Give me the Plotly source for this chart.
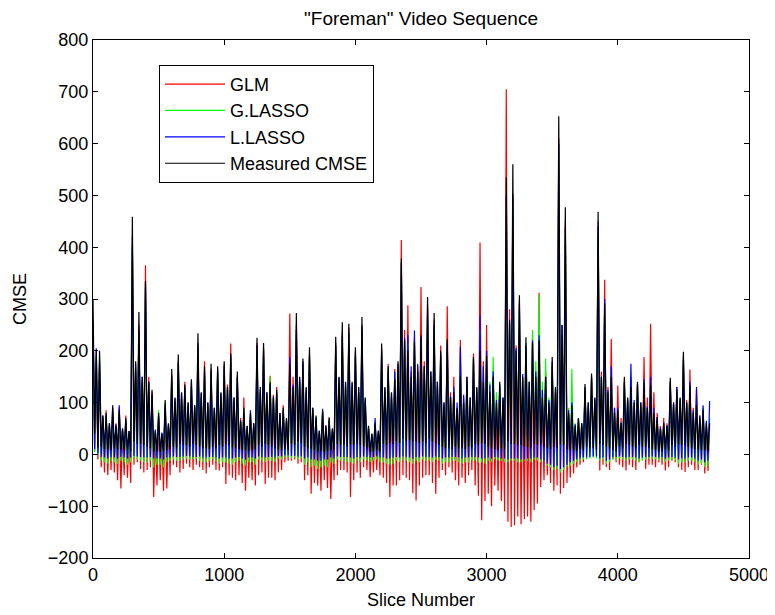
import plotly.graph_objects as go

# Slice positions of the readings: main peak every 50 slices, and in between a
# lower-edge reading, a band-top reading and a second lower-edge reading.
peak_slices = list(range(0, 4701, 50))          # 95 readings
low1_slices = [s + 12.5 for s in range(0, 4700, 50)]   # 94 readings
band_slices = [s + 25 for s in range(0, 4700, 50)]     # 94 readings
low2_slices = [s + 37.5 for s in range(0, 4700, 50)]   # 94 readings

# ---------------- Measured CMSE (black) ----------------
measured_peaks = [300, 200, 80, 95, 85, 70, 459, 275, 335, 125,
                  80, 105, 165, 193, 135, 145, 234, 170, 175, 170,
                  180, 195, 160, 90, 80, 225, 215, 140, 125, 90,
                  175, 273, 185, 207, 75, 85, 70, 227, 255, 252,
                  207, 265, 55, 60, 214, 170, 145, 378, 200, 217,
                  230, 304, 273, 200, 223, 120, 150, 150, 188, 200,
                  190, 150, 140, 535, 560, 307, 226, 215, 220, 150,
                  188, 653, 477, 95, 70, 136, 156, 468, 291, 150,
                  85, 150, 130, 140, 140, 133, 72, 60, 148, 125,
                  198, 133, 95, 85, 60]
measured_low1 = [40, 15, 10, 12, 10, 8, 25, 20, 15, 5,
                 5, 8, 15, 20, 18, 20, 15, 12, 15, 18,
                 20, 15, 10, 8, 8, 18, 20, 15, 10, 10,
                 20, 25, 15, 10, 5, 5, 8, 20, 18, 20,
                 20, 15, 5, 8, 20, 22, 25, 30, 28, 25,
                 25, 30, 20, 15, 12, 15, 12, 15, 20, 22,
                 15, 10, 12, 25, 20, 18, 15, 20, 18, 12,
                 15, 20, 10, 8, 10, 15, 12, 20, 15, 8,
                 15, 20, 15, 18, 15, 10, 5, 10, 18, 20,
                 18, 12, 10, 8]
measured_band = [200, 75, 60, 55, 50, 45, 180, 150, 140, 45,
                 40, 60, 110, 120, 100, 95, 120, 100, 90, 120,
                 130, 110, 65, 55, 60, 130, 120, 110, 80, 70,
                 130, 150, 130, 90, 45, 55, 50, 150, 140, 140,
                 130, 110, 40, 45, 130, 120, 180, 220, 150, 160,
                 170, 160, 140, 100, 110, 90, 100, 110, 130, 140,
                 120, 100, 110, 260, 200, 150, 140, 150, 110, 100,
                 130, 250, 80, 55, 60, 100, 110, 150, 120, 80,
                 60, 110, 100, 100, 90, 80, 50, 55, 100, 110,
                 100, 80, 70, 60]
measured_low2 = [12, 10, 8, 10, 8, 6, 20, 18, 12, 6,
                 6, 10, 12, 18, 15, 18, 12, 10, 12, 15,
                 18, 12, 8, 6, 10, 15, 18, 12, 8, 8,
                 18, 22, 12, 8, 6, 6, 10, 18, 15, 18,
                 18, 12, 6, 6, 18, 20, 22, 25, 25, 22,
                 22, 25, 18, 12, 10, 12, 10, 12, 18, 20,
                 12, 8, 10, 20, 18, 15, 12, 18, 15, 10,
                 12, 18, 8, 6, 8, 12, 10, 18, 12, 6,
                 12, 18, 12, 15, 12, 8, 6, 8, 15, 18,
                 15, 10, 8, 6]

# ---------------- L.LASSO (blue) ----------------
llasso_peaks = [250, 180, 75, 90, 95, 65, 420, 240, 330, 115,
                75, 95, 150, 180, 130, 140, 210, 160, 160, 165,
                170, 190, 150, 80, 85, 210, 205, 135, 120, 85,
                188, 240, 180, 190, 70, 88, 65, 210, 230, 235,
                195, 245, 50, 70, 200, 165, 160, 370, 230, 239,
                225, 280, 250, 195, 215, 130, 208, 150, 185, 268,
                200, 160, 135, 500, 500, 290, 210, 220, 230, 150,
                180, 600, 440, 100, 68, 130, 150, 440, 300, 170,
                90, 140, 175, 135, 145, 150, 70, 62, 140, 130,
                190, 140, 130, 95, 103]
llasso_low1 = [10, -5, -8, -6, -5, -8, -3, -5, -6, -8,
               -8, -6, -4, -5, -3, -5, -4, -6, -5, -8,
               -6, -8, -5, -10, -6, -4, -6, -5, -3, -2,
               -3, -4, -8, -10, -12, -10, -6, -4, -5, -6,
               -5, -4, -6, -4, -6, -8, -5, -4, -6, -5,
               -4, -5, -4, -8, -6, -5, -8, -6, -5, -8,
               -6, -5, -8, -10, -8, -10, -8, -6, -10, -18,
               -25, -28, -20, -12, -8, -6, -4, -8, -12, -6,
               -4, -6, -5, -8, -5, -4, -6, -8, -5, -10,
               -8, -6, -12, -15]
llasso_band = [205, 75, 60, 58, 50, 45, 175, 150, 140, 48,
               42, 58, 108, 118, 100, 95, 118, 100, 90, 118,
               128, 110, 66, 55, 60, 125, 120, 112, 80, 68,
               135, 148, 128, 90, 46, 56, 50, 148, 138, 138,
               128, 108, 40, 46, 128, 118, 175, 225, 170, 175,
               170, 160, 140, 100, 112, 100, 115, 110, 128, 170,
               135, 105, 110, 255, 205, 155, 140, 160, 125, 105,
               128, 250, 85, 58, 60, 100, 108, 150, 125, 90,
               62, 108, 105, 100, 92, 90, 52, 56, 100, 108,
               100, 85, 75, 65]
llasso_low2 = [2, -6, -6, -8, -6, -6, -4, -6, -5, -8,
               -10, -6, -5, -4, -4, -5, -6, -5, -6, -6,
               -8, -6, -8, -6, -8, -5, -5, -6, -4, -2,
               -3, -4, -6, -10, -12, -10, -8, -5, -5, -8,
               -6, -5, -5, -6, -8, -6, -6, -5, -8, -6,
               -5, -6, -5, -6, -5, -6, -6, -5, -6, -8,
               -8, -6, -8, -8, -8, -10, -8, -6, -12, -20,
               -22, -25, -15, -10, -6, -5, -4, -6, -10, -5,
               -5, -5, -6, -6, -5, -5, -5, -6, -6, -8,
               -6, -8, -10, -12]

# ---------------- G.LASSO (green) ----------------
glasso_peaks = [240, 190, 70, 85, 80, 60, 400, 230, 320, 110,
                85, 100, 140, 170, 125, 130, 200, 150, 150, 160,
                165, 185, 145, 85, 75, 200, 195, 150, 115, 80,
                165, 230, 170, 185, 72, 80, 68, 200, 220, 225,
                190, 235, 55, 65, 195, 160, 155, 360, 215, 210,
                215, 270, 240, 190, 210, 125, 190, 145, 180, 240,
                195, 188, 130, 480, 480, 280, 215, 240, 308, 185,
                175, 580, 420, 165, 70, 125, 145, 420, 290, 160,
                88, 135, 150, 130, 140, 140, 68, 60, 135, 120,
                180, 130, 110, 90, 70]
glasso_low1 = [5, -12, -18, -15, -12, -20, -8, -12, -15, -25,
               -20, -15, -10, -12, -8, -10, -12, -15, -10, -18,
               -15, -20, -12, -22, -15, -10, -15, -12, -8, -6,
               -8, -10, -20, -25, -28, -22, -15, -10, -12, -15,
               -12, -10, -15, -10, -15, -20, -12, -10, -15, -12,
               -10, -12, -10, -18, -15, -12, -18, -15, -12, -15,
               -12, -10, -12, -15, -12, -15, -12, -10, -15, -22,
               -30, -35, -25, -18, -12, -10, -6, -12, -18, -10,
               -8, -12, -10, -15, -10, -8, -12, -15, -10, -18,
               -15, -12, -20, -25]
glasso_band = [190, 70, 55, 55, 45, 40, 170, 140, 135, 45,
               40, 55, 100, 110, 95, 90, 110, 95, 85, 115,
               125, 105, 65, 50, 55, 120, 115, 110, 75, 65,
               125, 140, 120, 85, 45, 50, 48, 140, 130, 130,
               120, 100, 38, 42, 120, 110, 160, 210, 150, 150,
               160, 150, 130, 95, 110, 88, 105, 105, 120, 150,
               140, 120, 105, 250, 200, 150, 140, 180, 140, 110,
               120, 230, 90, 60, 58, 95, 105, 150, 120, 85,
               60, 105, 100, 95, 90, 85, 50, 55, 95, 105,
               95, 80, 70, 55]
glasso_low2 = [0, -15, -12, -18, -15, -15, -10, -15, -12, -20,
               -25, -12, -12, -10, -10, -8, -15, -12, -12, -15,
               -18, -15, -18, -15, -20, -12, -12, -15, -10, -5,
               -6, -8, -15, -22, -25, -25, -18, -12, -15, -18,
               -15, -12, -12, -15, -18, -18, -15, -12, -18, -15,
               -12, -15, -12, -15, -12, -15, -15, -12, -15, -18,
               -15, -12, -15, -12, -15, -12, -15, -12, -12, -25,
               -28, -30, -22, -15, -10, -8, -8, -10, -15, -12,
               -10, -10, -12, -12, -8, -10, -10, -12, -12, -15,
               -12, -15, -18, -22]

# ---------------- GLM (red) ----------------
glm_peaks = [260, 170, 85, 80, 90, 75, 400, 250, 365, 120,
             70, 95, 155, 175, 140, 130, 215, 180, 165, 155,
             175, 214, 150, 110, 70, 215, 200, 152, 130, 95,
             272, 250, 175, 195, 65, 80, 72, 215, 235, 245,
             200, 250, 50, 55, 205, 175, 165, 414, 288, 225,
             323, 290, 260, 210, 286, 150, 221, 140, 195, 409,
             250, 150, 130, 705, 503, 295, 183, 230, 312, 160,
             170, 610, 450, 90, 65, 125, 150, 450, 337, 223,
             133, 140, 145, 135, 188, 252, 80, 70, 140, 130,
             180, 164, 125, 90, 55]
glm_low1 = [5, -25, -40, -35, -66, -45, -20, -28, -30, -82,
            -50, -66, -20, -35, -18, -30, -25, -37, -20, -31,
            -57, -45, -40, -70, -50, -40, -57, -45, -35, -15,
            -12, -18, -50, -76, -60, -50, -86, -40, -30, -82,
            -35, -25, -44, -30, -45, -82, -60, -40, -50, -89,
            -45, -40, -76, -30, -25, -50, -45, -40, -60, -127,
            -76, -60, -90, -130, -137, -135, -120, -108, -63, -40,
            -70, -76, -55, -37, -20, 10, 14, -31, -25, -10,
            -20, -31, -25, -15, -28, -20, -15, -31, -12, -25,
            -34, -20, -30, -37]
glm_band = [180, 70, 55, 60, 45, 40, 160, 140, 150, 40,
            35, 55, 100, 110, 95, 90, 110, 95, 85, 110,
            135, 100, 70, 50, 55, 120, 110, 115, 75, 65,
            150, 140, 120, 85, 40, 50, 45, 140, 130, 130,
            120, 100, 35, 40, 120, 110, 170, 240, 160, 170,
            180, 150, 130, 90, 120, 85, 110, 100, 120, 180,
            110, 90, 100, 280, 210, 140, 120, 140, 100, 90,
            120, 230, 75, 50, 55, 90, 100, 160, 130, 90,
            70, 100, 95, 90, 110, 120, 55, 60, 95, 100,
            105, 90, 75, 50]
glm_low2 = [-10, -35, -30, -50, -40, -55, -15, -35, -25, -60,
            -70, -40, -25, -28, -25, -20, -30, -25, -30, -25,
            -40, -50, -55, -45, -60, -35, -45, -50, -30, -12,
            -10, -15, -40, -55, -70, -65, -50, -30, -35, -50,
            -45, -30, -35, -40, -55, -60, -50, -45, -75, -60,
            -40, -55, -45, -40, -35, -60, -55, -30, -80, -90,
            -100, -70, -110, -140, -120, -125, -130, -95, -50, -55,
            -60, -65, -45, -25, -15, 5, 8, -20, -30, -15,
            -25, -20, -30, -10, -20, -25, -20, -25, -15, -30,
            -25, -30, -20, -32]

x_ticks = [0, 1000, 2000, 3000, 4000, 5000]
y_ticks = [-200, -100, 0, 100, 200, 300, 400, 500, 600, 700, 800]


def assemble(peaks, low1, band, low2):
    assert len(peaks) == len(peak_slices)
    for arr in (low1, band, low2):
        assert len(arr) == len(low1_slices), len(arr)
    xs, ys = [], []
    for i, p in enumerate(peaks):
        xs.append(peak_slices[i]); ys.append(p)
        if i < len(low1):
            xs.append(low1_slices[i]); ys.append(low1[i])
            xs.append(band_slices[i]); ys.append(band[i])
            xs.append(low2_slices[i]); ys.append(low2[i])
    return xs, ys


series = [
    ("GLM", (glm_peaks, glm_low1, glm_band, glm_low2), "#ff0000"),
    ("G.LASSO", (glasso_peaks, glasso_low1, glasso_band, glasso_low2), "#00ff00"),
    ("L.LASSO", (llasso_peaks, llasso_low1, llasso_band, llasso_low2), "#0000ff"),
    ("Measured CMSE", (measured_peaks, measured_low1, measured_band, measured_low2), "#000000"),
]

fig = go.Figure()
for name, arrs, col in series:
    xs, ys = assemble(*arrs)
    fig.add_trace(go.Scatter(x=xs, y=ys, mode="lines", name=name,
                             line=dict(color=col, width=1.2),
                             hoverinfo="skip"))

font_family = "Liberation Sans, Arial, Helvetica, sans-serif"
FS = 18
axis_common = dict(showgrid=False, zeroline=False, showline=True,
                   linecolor="black", linewidth=1, mirror="ticks",
                   ticks="inside", ticklen=5, tickcolor="black",
                   automargin=False,
                   tickfont=dict(family=font_family, size=FS, color="black"))

fig.update_layout(
    width=775, height=615,
    paper_bgcolor="white", plot_bgcolor="white",
    margin=dict(l=85, r=34, t=32, b=65),
    title=dict(text='"Foreman" Video Sequence', xref="paper", x=0.5,
               xanchor="center", yref="container", y=1 - 10 / 615,
               yanchor="middle",
               font=dict(family=font_family, size=19, color="black")),
    xaxis=dict(range=[0, 5000], tickvals=x_ticks,
               title=dict(text="Slice Number", standoff=9,
                          font=dict(family=font_family, size=FS, color="black")),
               **axis_common),
    yaxis=dict(range=[-200, 800], tickvals=y_ticks,
               title=dict(text="CMSE", standoff=16,
                          font=dict(family=font_family, size=FS, color="black")),
               **axis_common),
    legend=dict(x=0.1006, y=0.952, xanchor="left", yanchor="top",
                bgcolor="white", bordercolor="black", borderwidth=1,
                font=dict(family=font_family, size=FS, color="black"),
                itemwidth=60, tracegroupgap=0),
    showlegend=True,
)

fig.write_html("out.html")
